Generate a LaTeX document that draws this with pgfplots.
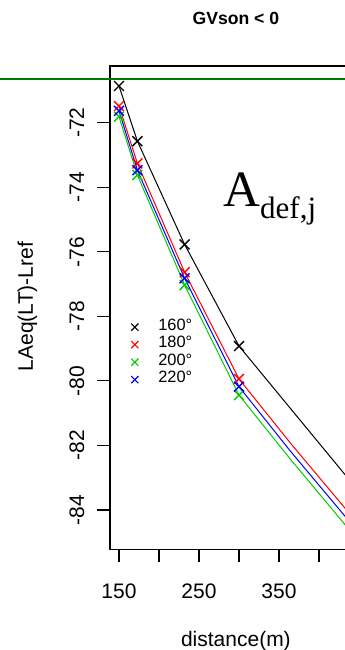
\documentclass[border=0pt]{standalone}
\usepackage{pgfplots}
\pgfplotsset{compat=1.18}
\usepackage{fontspec}
\setmainfont{Liberation Sans}
\newfontfamily\serifA{Liberation Serif}
\definecolor{rgreen}{RGB}{0,205,0}
\definecolor{hgreen}{RGB}{0,120,0}
\begin{document}
\begin{tikzpicture}
\begin{axis}[
  name=ax,
  scale only axis,
  width=121.3pt, height=241.65pt,
  xmin=138.75, xmax=442, ymin=-85.22, ymax=-70.24,
  clip=false,
  axis line style={line width=0.6pt},
  tick style={line width=0.6pt, black},
  tick align=outside,
  major tick length=6.3pt,
  xtick={150,200,250,300,350,400},
  xticklabels={150,,250,,350,},
  ytick={-84,-82,-80,-78,-76,-74,-72},
  yticklabels={-84,-82,-80,-78,-76,-74,-72},
  xtick pos=bottom, ytick pos=left,
  ticklabel style={font=\fontsize{10.5}{12}\selectfont, inner sep=0pt},
  xticklabel style={anchor=base, yshift=-18.2pt},
  yticklabel style={xshift=-6.6pt, rotate=90, anchor=base},
  xlabel={distance(m)},
  xlabel style={at={(axis description cs:0.519,-0.2015)}, anchor=base, font=\fontsize{10.5}{12}\selectfont, inner sep=0pt},
  ylabel={LAeq(LT)-Lref},
  ylabel style={at={(axis description cs:-0.3174,0.5024)}, anchor=base, rotate=0, font=\fontsize{10.5}{12}\selectfont, inner sep=0pt},
  legend style={at={(axis description cs:0.074,0.4786)}, anchor=north west, draw=none, fill=none, inner sep=0pt,
    font=\fontsize{8.2}{8.75}\selectfont, column sep=8.5pt,
    nodes={inner sep=0pt, text height=6pt, text depth=2.75pt}},
  legend cell align=left,
  legend image code/.code={\path (-3pt,0pt) (3pt,0pt); \draw[#1] plot coordinates {(0pt,0pt)};},
  every axis plot/.append style={line width=0.5pt, mark size=3.5pt, every mark/.append style={line width=0.7pt}},
]
% horizontal reference line
\addplot[hgreen, line width=1pt, forget plot] coordinates {(0,-70.65) (500,-70.65)};
% 160
\addplot[black, mark=x, forget plot, mark indices={1,2,3,4}] coordinates {
(150,-70.86) (173,-72.57) (232,-75.77) (300,-78.92) (431,-82.86) (440,-83.13)};
% 180
\addplot[red, mark=x, forget plot, mark indices={1,2,3,4}] coordinates {
(150,-71.48) (173,-73.26) (232,-76.63) (300,-79.94) (365,-81.95) (431,-83.90) (440,-84.17)};
% 200
\addplot[rgreen, mark=x, forget plot, mark indices={1,2,3,4}] coordinates {
(150,-71.81) (173,-73.62) (232,-77.03) (300,-80.44) (365,-82.45) (431,-84.41) (440,-84.68)};
% 220
\addplot[blue, mark=x, forget plot, mark indices={1,2,3,4}] coordinates {
(150,-71.63) (173,-73.47) (232,-76.82) (300,-80.18) (365,-82.20) (431,-84.15) (440,-84.42)};
\addlegendimage{only marks, mark=x, black, mark size=2.5pt, every mark/.append style={line width=0.55pt}}
\addlegendentry{160°}
\addlegendimage{only marks, mark=x, red, mark size=2.5pt, every mark/.append style={line width=0.55pt}}
\addlegendentry{180°}
\addlegendimage{only marks, mark=x, rgreen, mark size=2.5pt, every mark/.append style={line width=0.55pt}}
\addlegendentry{200°}
\addlegendimage{only marks, mark=x, blue, mark size=2.5pt, every mark/.append style={line width=0.55pt}}
\addlegendentry{220°}
\node[anchor=base, inner sep=0pt, font=\fontsize{8.8}{10}\selectfont\bfseries] at (rel axis cs:0.519,1.0869) {GVson < 0};
\node[anchor=base west, inner sep=0pt] at (axis cs:280,-74.61)
  {\serifA\fontsize{25.5}{26}\selectfont A\raisebox{-6pt}{\fontsize{15.5}{16}\selectfont def,j}};
\end{axis}
\pgfresetboundingbox
\useasboundingbox ([shift={(-55pt,-50.35pt)}]ax.south west) rectangle ([shift={(117pt,274.65pt)}]ax.south west);
\end{tikzpicture}
\end{document}
